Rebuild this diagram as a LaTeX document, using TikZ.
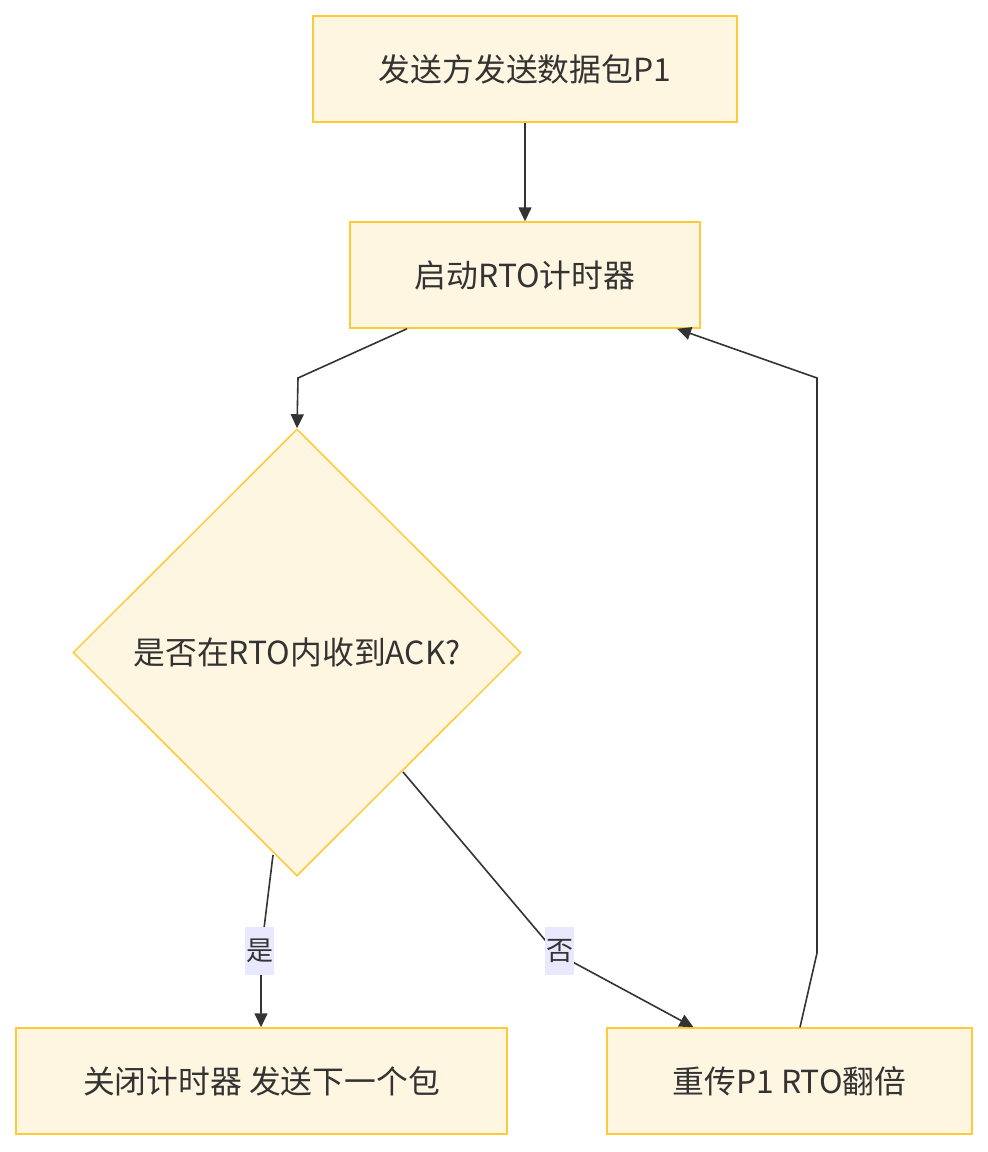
\documentclass[tikz,border=0pt]{standalone}
\usepackage{fontspec}
\setmainfont{Noto Sans CJK SC}
\usetikzlibrary{shapes.geometric,arrows.meta}
\definecolor{nodefill}{HTML}{FFF6E2}
\definecolor{nodedraw}{HTML}{FFCA3A}
\definecolor{txt}{HTML}{333333}
\definecolor{lblbg}{HTML}{E8E8FF}
\tikzset{
  box/.style={draw=nodedraw, fill=nodefill, line width=1.5pt, inner sep=0pt, text=txt, font=\fontsize{31.8}{36}\selectfont},
  dec/.style={draw=nodedraw, fill=nodefill, line width=1.5pt, diamond, inner sep=0pt, minimum width=448pt, minimum height=447pt, text=txt, font=\fontsize{31.8}{36}\selectfont},
  conn/.style={draw=txt, line width=1.6pt, -{Triangle[length=14pt,width=13pt]}},
  lbl/.style={fill=lblbg, text=txt, inner sep=1pt, minimum width=27pt, minimum height=48pt, font=\fontsize{27}{32}\selectfont}
}
\begin{document}
\begin{tikzpicture}[x=1pt,y=-1pt]
\useasboundingbox (0,0) rectangle (988,1152);
\node[box, minimum width=424pt, minimum height=106pt] (A) at (525,69) {发送方发送数据包P1};
\node[box, minimum width=350pt, minimum height=106pt] (B) at (525,275) {启动RTO计时器};
\node[dec] (C) at (297,652.5) {是否在RTO内收到ACK?};
\node[box, minimum width=491pt, minimum height=106pt] (D) at (261.5,1081) {关闭计时器 发送下一个包};
\node[box, minimum width=365pt, minimum height=106pt] (E) at (789.5,1081) {重传P1 RTO翻倍};
\coordinate (b1) at (298,378);
\coordinate (y1) at (261,953);
\coordinate (n1) at (556,953);
\coordinate (r1) at (817,953);
\coordinate (r2) at (817,378);
\draw[conn] (A.south) -- (B.north);
\draw[conn] ([xshift=-118pt]B.south) -- (b1) -- (C.north);
\draw[conn] (273,855) -- (y1) -- ([xshift=-0.5pt]D.north);
\node[lbl] (ly) at (259.5,951) {是};
\draw[conn] (403,772) -- (n1) -- ([xshift=-96pt]E.north);
\node[lbl] (ln) at (559.5,951) {否};
\draw[conn] ([xshift=10.5pt]E.north) -- (r1) -- (r2) -- ([xshift=152pt]B.south);
\end{tikzpicture}
\end{document}
